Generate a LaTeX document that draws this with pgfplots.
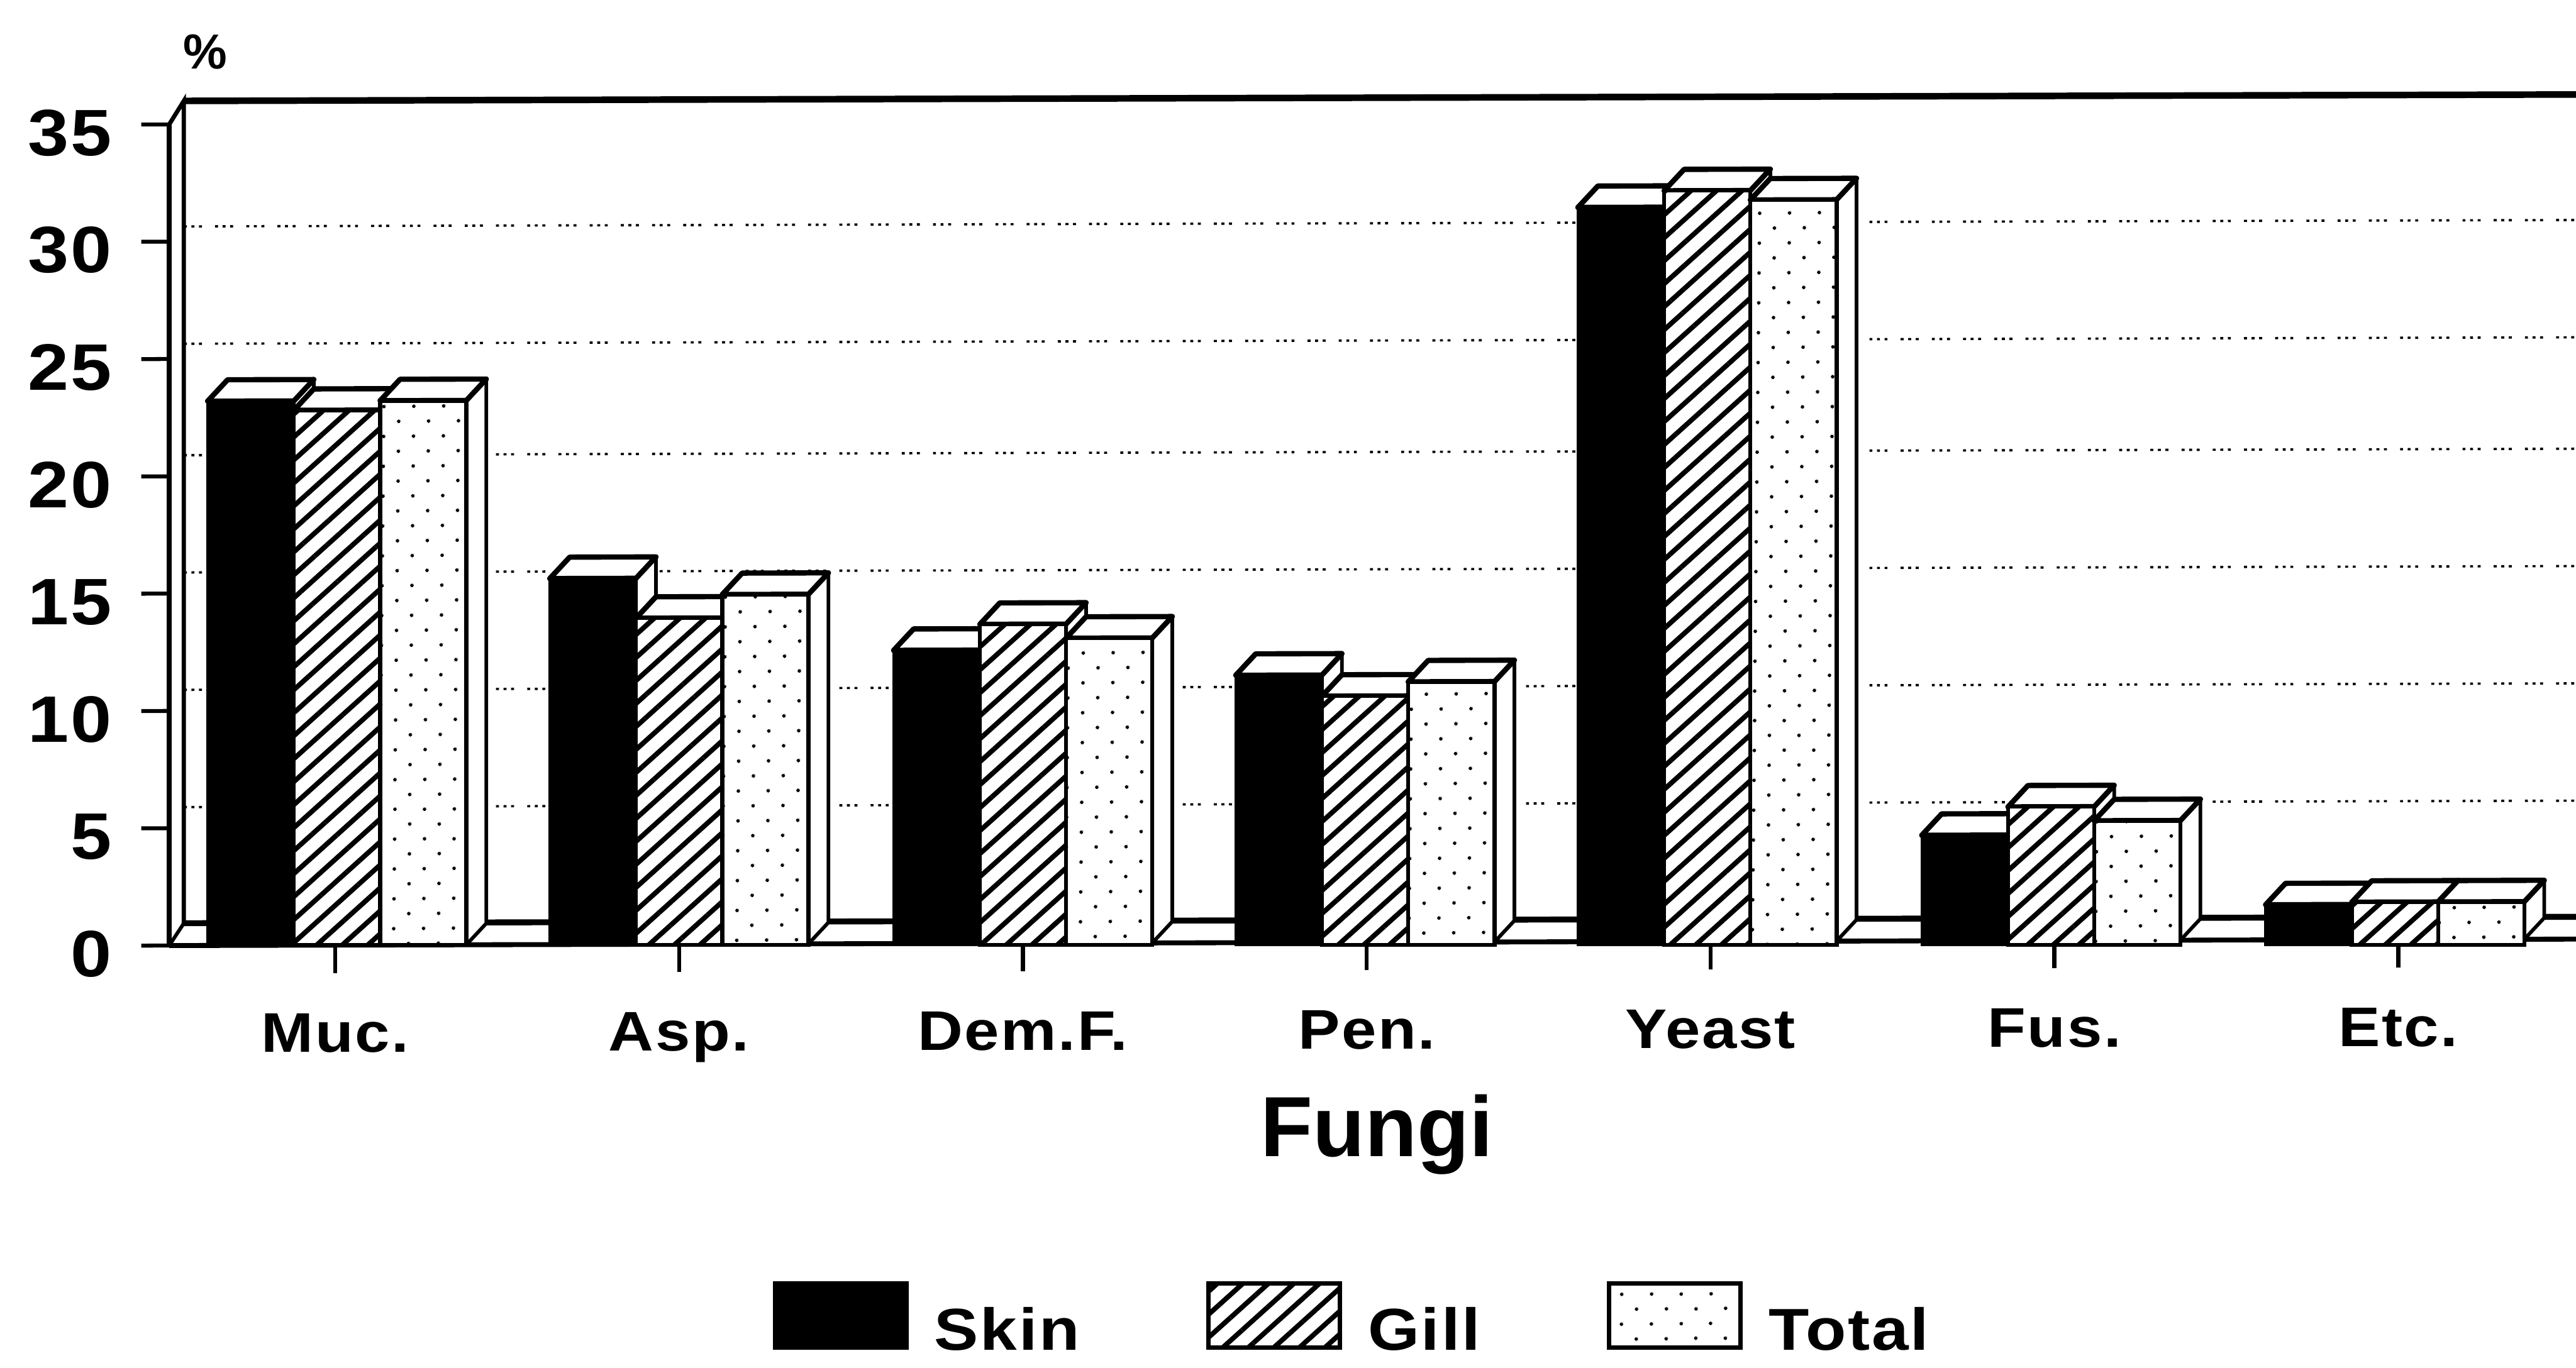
\documentclass[border=0pt]{standalone}
\usepackage{fontspec}
\setmainfont[FakeStretch=1.12,LetterSpace=3]{Liberation Sans}
\newfontfamily\plainbold[FakeStretch=1.0]{Liberation Sans}
\usepackage{pgfplots}
\usepackage{pgfplotstable}
\pgfplotsset{compat=1.18}
\usetikzlibrary{patterns.meta}
\pgfplotstableread{
x skin gill total
0.015 23.2 22.8 23.2
1.01 15.6 13.9 14.9
2.01 12.5 13.6 13.0
3.005 11.4 10.5 11.1
4 31.3 32.0 31.6
5 4.5 5.7 5.1
6 1.5 1.6 1.6
}\fungi
\newcommand\depthbox[3]{% group, offset, value
  \pgfmathsetmacro\xl{#1+#2-0.1254}
  \pgfmathsetmacro\xr{#1+#2+0.1254}
  \pgfmathsetmacro\xla{\xl+0.058}
  \pgfmathsetmacro\xra{\xr+0.058}
  \pgfmathsetmacro\vv{#3+0.91}
  \addplot[fill=white,draw=black,line width=1.1pt,line join=round,forget plot] coordinates {(\xr,#3) (\xra,\vv) (\xra,0.91) (\xr,0)} --cycle;
  \addplot[fill=white,draw=black,line width=1.6pt,line join=round,forget plot] coordinates {(\xl,#3) (\xla,\vv) (\xra,\vv) (\xr,#3)} --cycle;
}
\newcommand\alldepth[2]{% column, offset
  \foreach \i in {0,...,6}{
    \pgfplotstablegetelem{\i}{#1}\of\fungi
    \let\vala\pgfplotsretval
    \pgfplotstablegetelem{\i}{x}\of\fungi
    \let\xpos\pgfplotsretval
    \depthbox{\xpos}{#2}{\vala}
  }
}
\begin{document}
\begin{tikzpicture}
\useasboundingbox (-102pt,-128.75pt) rectangle (682pt,287.75pt);
\begin{axis}[
  at={(0,0)},anchor=origin,
  x={(104.65pt,0.28pt)},y={(0pt,7.143pt)},
  xmin=-0.4826,xmax=6.517,ymin=0,ymax=35,
  clip=false,
  axis lines=left,
  axis line style={-,line width=1.5pt},
  tick align=outside,
  major tick length=8.5pt,
  tick style={black,line width=1.2pt},
  xtick={0,1,2,3,4,5,6},
  xticklabels={Muc.,Asp.,Dem.F.,Pen.,Yeast,Fus.,Etc.},
  ytick={0,5,10,15,20,25,30,35},
  /pgf/number format/assume math mode=true,
  tick label style={font=\fontsize{20}{20}\selectfont\bfseries},
  xticklabel style={font=\fontsize{17}{17}\selectfont\bfseries,text height=13pt,yshift=-7.5pt},
  yticklabel style={yshift=-2.5pt,xshift=-5.5pt},
  legend cell align=left,
  legend columns=3,
  legend style={draw=none,fill=none,at={(axis cs:2.964,-16.15)},anchor=center,
    font=\fontsize{18}{18}\selectfont\bfseries,
    /tikz/every even column/.append style={column sep=36.5pt}},
  legend image code/.code={\draw[#1,line width=1.4pt] (0pt,-5pt) rectangle (40pt,14.5pt);\path (46pt,0pt);},
]
% back wall grid lines
\addplot[black,line width=0.7pt,dash pattern=on 0.9pt off 1.4pt on 0.9pt off 1.4pt on 0.9pt off 4pt,forget plot] coordinates {(-0.44,30.65) (6.517,30.65)};
\addplot[black,line width=0.7pt,dash pattern=on 0.9pt off 1.4pt on 0.9pt off 1.4pt on 0.9pt off 4pt,forget plot] coordinates {(-0.44,25.65) (6.517,25.65)};
\addplot[black,line width=0.7pt,dash pattern=on 0.9pt off 1.4pt on 0.9pt off 1.4pt on 0.9pt off 4pt,forget plot] coordinates {(-0.44,20.9) (6.517,20.9)};
\addplot[black,line width=0.7pt,dash pattern=on 0.9pt off 1.4pt on 0.9pt off 1.4pt on 0.9pt off 4pt,forget plot] coordinates {(-0.44,15.9) (6.517,15.9)};
\addplot[black,line width=0.7pt,dash pattern=on 0.9pt off 1.4pt on 0.9pt off 1.4pt on 0.9pt off 4pt,forget plot] coordinates {(-0.44,10.9) (6.517,10.9)};
\addplot[black,line width=0.7pt,dash pattern=on 0.9pt off 1.4pt on 0.9pt off 1.4pt on 0.9pt off 4pt,forget plot] coordinates {(-0.44,5.9) (6.517,5.9)};
% walls and floor
\addplot[black,line width=1.3pt,forget plot] coordinates {(-0.4826,35) (-0.44,36.0) (-0.44,0.95)};
\addplot[black,line width=1.8pt,forget plot] coordinates {(-0.44,0.95) (6.517,0.95)};
\addplot[black,line width=2pt,forget plot] coordinates {(-0.44,36.0) (6.517,36.0)};
\addplot[black,line width=1.1pt,forget plot] coordinates {(-0.4826,0) (-0.44,0.95)};
% skin
\alldepth{skin}{-0.2604}
\addplot[ybar,bar width=26.25pt,bar shift=-27.25pt,fill=black,draw=black,line width=0.8pt] table[x=x,y=skin]{\fungi};
\addlegendentry{Skin}
% gill
\alldepth{gill}{-0.0096}
\addplot[ybar,bar width=26.25pt,bar shift=-1pt,fill=white,draw=black,line width=1.2pt,
  postaction={pattern={Lines[angle=42,distance=5.2pt,line width=1.5pt]},pattern color=black}] table[x=x,y=gill]{\fungi};
\addlegendentry{Gill}
% total
\alldepth{total}{0.2412}
\addplot[ybar,bar width=26.25pt,bar shift=25.25pt,fill=white,draw=black,line width=1.2pt,
  postaction={pattern={Dots[angle=45,distance=6.4pt,radius=0.55pt]},pattern color=black}] table[x=x,y=total]{\fungi};
\addlegendentry{Total}
\node[font=\fontsize{15}{15}\selectfont\plainbold\bfseries] at (axis cs:-0.377,38.1) {\%};
\node[font=\fontsize{26}{26}\selectfont\plainbold\bfseries] at (axis cs:3.03,-8.2) {Fungi};
\end{axis}
\end{tikzpicture}
\end{document}
